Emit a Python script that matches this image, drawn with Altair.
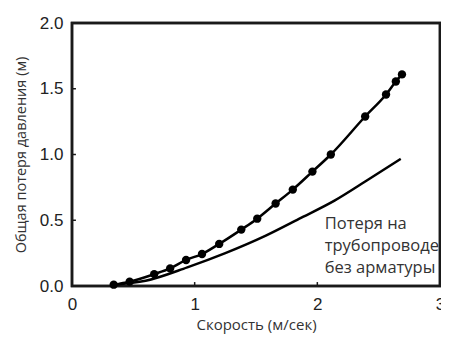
import altair as alt
import pandas as pd

# Measured total loss (points)
pts_x = [0.34, 0.47, 0.67, 0.80, 0.93, 1.06, 1.20, 1.38, 1.51, 1.66, 1.80, 1.96, 2.11, 2.39, 2.56, 2.64, 2.69]
pts_y = [0.01, 0.033, 0.09, 0.134, 0.198, 0.243, 0.32, 0.429, 0.512, 0.627, 0.733, 0.87, 1.0, 1.289, 1.456, 1.555, 1.609]

# Pipe loss without fittings (curve)
pipe_x = [0.34, 0.60, 0.94, 1.25, 1.58, 1.85, 2.14, 2.40, 2.68]
pipe_y = [0.01, 0.04, 0.142, 0.25, 0.383, 0.51, 0.649, 0.80, 0.967]

label_lines = ["Потеря на", "трубопроводе", "без арматуры"]
label_x = 2.06
label_y = [0.47, 0.305, 0.14]

x_ticks = [1, 2]
y_ticks = [0.5, 1.0, 1.5]

pts = pd.DataFrame({"x": pts_x, "y": pts_y})
pipe = pd.DataFrame({"x": pipe_x, "y": pipe_y})
lab = pd.DataFrame({"x": [label_x] * 3, "y": label_y, "t": label_lines})
xt = pd.DataFrame({"x": x_ticks, "ya": [0] * len(x_ticks), "yb": [0.03] * len(x_ticks)})
yt = pd.DataFrame({"y": y_ticks, "xa": [0] * len(y_ticks), "xb": [0.032] * len(y_ticks)})
frame = pd.DataFrame({"xa": [0], "xb": [3], "ya": [0], "yb": [2]})

xs = alt.Scale(domain=[0, 3], nice=False)
ys = alt.Scale(domain=[0, 2], nice=False)

xaxis = alt.Axis(values=[0, 1, 2, 3], format="d", ticks=False, grid=False, domain=False,
                 labelFlush=False,
                 labelFontSize=17, labelFont="Liberation Sans", labelColor="#222",
                 labelPadding=10, title="Скорость (м/сек)", titleFont="Open Sans",
                 titleFontSize=15, titleFontWeight="normal", titleColor="#333", titlePadding=5)
yaxis = alt.Axis(values=[0, 0.5, 1.0, 1.5, 2.0], format=".1f", ticks=False, grid=False, domain=False,
                 labelFlush=False,
                 labelFontSize=17, labelFont="Liberation Sans", labelColor="#222",
                 labelPadding=9, title="Общая потеря давления (м)", titleFont="Open Sans",
                 titleFontSize=14.5, titleFontWeight="normal", titleColor="#333",
                 titleX=-44)

box = alt.Chart(frame).mark_rect(color="#1a1a1a", fillOpacity=0, stroke="#1a1a1a",
                                 strokeWidth=2.5).encode(
    x=alt.X("xa:Q", scale=xs, axis=xaxis), x2=alt.X2("xb"),
    y=alt.Y("ya:Q", scale=ys, axis=yaxis), y2=alt.Y2("yb"))
line_pipe = alt.Chart(pipe).mark_line(color="black", strokeWidth=2.5, interpolate="monotone").encode(
    x=alt.X("x:Q", scale=xs), y=alt.Y("y:Q", scale=ys))
line_pts = alt.Chart(pts).mark_line(color="black", strokeWidth=2.5, interpolate="monotone").encode(
    x=alt.X("x:Q", scale=xs), y=alt.Y("y:Q", scale=ys))
dots = alt.Chart(pts).mark_circle(color="black", size=70, opacity=1).encode(
    x=alt.X("x:Q", scale=xs), y=alt.Y("y:Q", scale=ys))
text = alt.Chart(lab).mark_text(align="left", baseline="middle", font="Open Sans", fontSize=16.5,
                                color="#333").encode(
    x=alt.X("x:Q", scale=xs), y=alt.Y("y:Q", scale=ys), text="t:N")
xtick = alt.Chart(xt).mark_rule(color="#1a1a1a", strokeWidth=1.5).encode(
    x=alt.X("x:Q", scale=xs), y=alt.Y("ya:Q", scale=ys), y2=alt.Y2("yb"))
ytick = alt.Chart(yt).mark_rule(color="#1a1a1a", strokeWidth=1.5).encode(
    y=alt.Y("y:Q", scale=ys), x=alt.X("xa:Q", scale=xs), x2=alt.X2("xb"))

chart = alt.layer(box, line_pipe, line_pts, dots, text, xtick, ytick).properties(
    width=368, height=263,
    autosize=alt.AutoSizeParams(type="none"),
    padding={"left": 64, "top": 15, "right": 1, "bottom": 60},
).configure_view(stroke="#1a1a1a", strokeWidth=2.5)

chart.save("out.html", embed_options={"renderer": "svg", "actions": False})
